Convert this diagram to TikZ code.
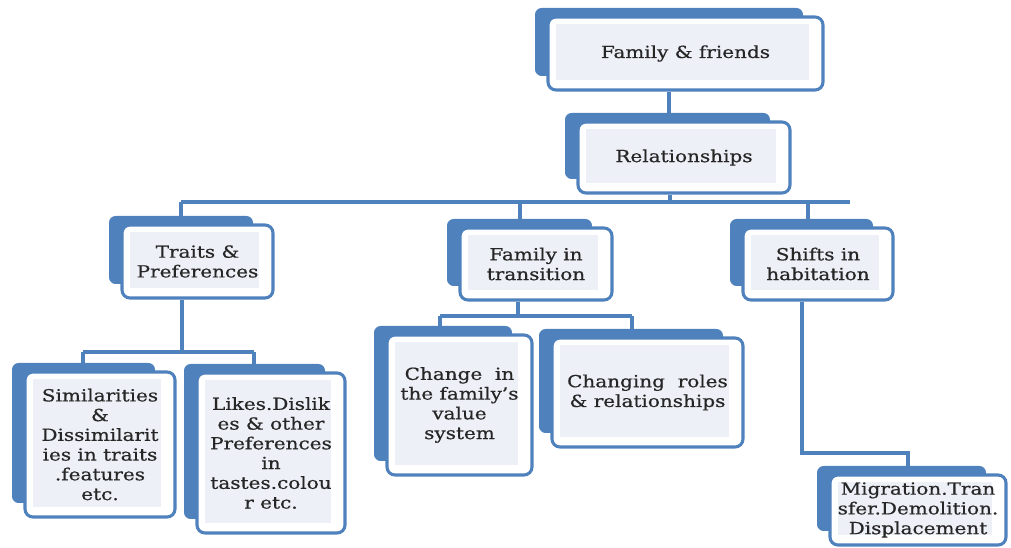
\documentclass[tikz,border=0pt]{standalone}
\usepackage{fontspec}
\setmainfont{DejaVu Serif}[FakeStretch=1.2,FakeBold=0.6]
\usetikzlibrary{fit}
\definecolor{bl}{HTML}{4F81BD}
\definecolor{inn}{HTML}{EDF0F6}
\definecolor{txtc}{HTML}{262626}
\pgfdeclarelayer{bg}\pgfsetlayers{bg,main}
\newcommand\mkbox[6]{%
  \fill[bl, rounded corners=5pt] (#2-13,#3-9) rectangle (#4-20,#5-14);
  \node[frontbox, fit={(#2,#3) (#4,#5)}] (#1) {};
  \fill[inn] (#2+8,#3+7) rectangle (#4-14,#5-10);
  \node[txt] at (#1.center) {#6};
}
\begin{document}
\begin{tikzpicture}[x=0.75pt,y=-0.75pt,
  frontbox/.style={draw=bl, fill=white, line width=2.3pt, rounded corners=6pt, inner sep=0pt},
  txt/.style={align=center, text=txtc, inner sep=0pt, font=\fontsize{12.5}{14.8}\selectfont},
  conn/.style={draw=bl, line width=2.8pt}]
\useasboundingbox (0,0) rectangle (1011,548);

\mkbox{FF}{548}{17}{823}{90}{Family \& friends}
\mkbox{Rel}{578}{122}{790}{193}{Relationships}
\mkbox{Traits}{122}{225}{273}{298}{Traits \&\\Preferences}
\mkbox{FiT}{460}{228}{612}{300}{Family in\\transition}
\mkbox{Shifts}{743}{228}{893}{300}{Shifts in\\habitation}
\mkbox{Sim}{25}{372}{175}{517}{Similarities\\\&\\Dissimilarit\\ies in traits\\.features\\etc.}
\mkbox{Likes}{197}{373}{345}{533}{Likes.Dislik\\es \& other\\Preferences\\in\\tastes.colou\\r etc.}
\mkbox{Change}{387}{335}{532}{475}{Change~ in\\the family's\\value\\system}
\mkbox{Roles}{552}{338}{743}{447}{Changing~ roles\\\& relationships}
\mkbox{Mig}{830}{475}{1006}{545}{Migration.Tran\\sfer.Demolition.\\Displacement}

\coordinate (c1) at (669,0);
\coordinate (barL) at (181,202);
\coordinate (barR) at (850,202);
\coordinate (br) at (670,202);
\coordinate (bm) at (520,202);
\coordinate (bs) at (808,202);
\coordinate (t1) at (182,352);
\coordinate (tL) at (83,352);
\coordinate (tR) at (254,352);
\coordinate (f1) at (518,316);
\coordinate (fL) at (440,316);
\coordinate (fR) at (632,316);
\coordinate (s1) at (802,453);
\coordinate (s2) at (908,453);

\begin{pgfonlayer}{bg}
\draw[conn] (FF.south -| c1) -- (Rel.north -| c1);
\draw[conn] (Rel.south -| br) -- (br);
\draw[conn] (barL) -- (barR);
\draw[conn] (barL) -- (Traits.north -| barL);
\draw[conn] (bm) -- (FiT.north -| bm);
\draw[conn] (bs) -- (Shifts.north -| bs);
\draw[conn] (Traits.south -| t1) -- (t1);
\draw[conn] (tL) -- (tR);
\draw[conn] (tL) -- (Sim.north -| tL);
\draw[conn] (tR) -- (Likes.north -| tR);
\draw[conn] (FiT.south -| f1) -- (f1);
\draw[conn] (fL) -- (fR);
\draw[conn] (fL) -- (Change.north -| fL);
\draw[conn] (fR) -- (Roles.north -| fR);
\draw[conn] (Shifts.south -| s1) -- (s1) -- (s2) -- (Mig.north -| s2);
\end{pgfonlayer}
\end{tikzpicture}
\end{document}
